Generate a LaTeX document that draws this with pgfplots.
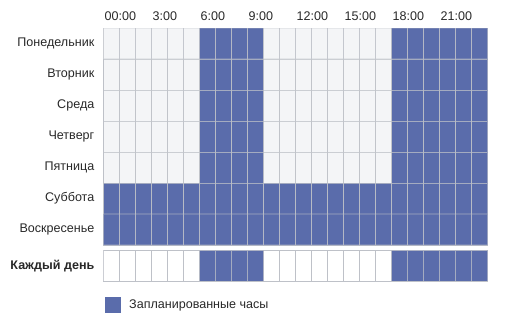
\documentclass[border=0pt]{standalone}
\usepackage{fontspec}
\setmainfont{Liberation Sans}
\usepackage{pgfplots}
\pgfplotsset{compat=1.18}
\definecolor{blueclr}{RGB}{90,108,171}
\definecolor{emptyclr}{RGB}{244,245,247}
\definecolor{lineclr}{RGB}{190,193,200}
\definecolor{txt}{RGB}{40,40,40}
\begin{document}
\begin{tikzpicture}
\useasboundingbox (0,0) rectangle (510bp,327bp);
\pgfplotsset{every axis/.append style={
  scale only axis, width=384bp, enlargelimits=false,
  axis line style={draw=lineclr, line width=0.6bp},
  major tick length=0pt,
  tick label style={font=\fontsize{12.6}{14}\selectfont, text=txt},
}}
\begin{axis}[
  at={(103.5bp,82bp)}, anchor=south west, height=217bp,
  xmin=-0.5, xmax=23.5, ymin=-0.5, ymax=6.5, y dir=reverse,
  xtick={-0.5,2.5,5.5,8.5,11.5,14.5,17.5,20.5},
  xticklabels={00:00,3:00,6:00,9:00,12:00,15:00,18:00,21:00},
  xticklabel pos=upper,
  xticklabel style={anchor=base west, inner sep=0pt, xshift=1bp, yshift=8bp},
  ytick={0,...,6},
  yticklabels={Понедельник,Вторник,Среда,Четверг,Пятница,Суббота,Воскресенье},
  yticklabel style={anchor=east, inner sep=0pt, xshift=-9bp},
  colormap={sched}{rgb255=(244,245,247) rgb255=(90,108,171)},
  point meta min=0, point meta max=1,
]
\addplot[matrix plot*, mesh/cols=24, point meta=explicit, draw=lineclr, draw opacity=0.75, line width=0.6bp]
 table[row sep=\\, meta=c] {
x y c\\
0 0 0\\ 1 0 0\\ 2 0 0\\ 3 0 0\\ 4 0 0\\ 5 0 0\\ 6 0 1\\ 7 0 1\\ 8 0 1\\ 9 0 1\\ 10 0 0\\ 11 0 0\\ 12 0 0\\ 13 0 0\\ 14 0 0\\ 15 0 0\\ 16 0 0\\ 17 0 0\\ 18 0 1\\ 19 0 1\\ 20 0 1\\ 21 0 1\\ 22 0 1\\ 23 0 1\\
0 1 0\\ 1 1 0\\ 2 1 0\\ 3 1 0\\ 4 1 0\\ 5 1 0\\ 6 1 1\\ 7 1 1\\ 8 1 1\\ 9 1 1\\ 10 1 0\\ 11 1 0\\ 12 1 0\\ 13 1 0\\ 14 1 0\\ 15 1 0\\ 16 1 0\\ 17 1 0\\ 18 1 1\\ 19 1 1\\ 20 1 1\\ 21 1 1\\ 22 1 1\\ 23 1 1\\
0 2 0\\ 1 2 0\\ 2 2 0\\ 3 2 0\\ 4 2 0\\ 5 2 0\\ 6 2 1\\ 7 2 1\\ 8 2 1\\ 9 2 1\\ 10 2 0\\ 11 2 0\\ 12 2 0\\ 13 2 0\\ 14 2 0\\ 15 2 0\\ 16 2 0\\ 17 2 0\\ 18 2 1\\ 19 2 1\\ 20 2 1\\ 21 2 1\\ 22 2 1\\ 23 2 1\\
0 3 0\\ 1 3 0\\ 2 3 0\\ 3 3 0\\ 4 3 0\\ 5 3 0\\ 6 3 1\\ 7 3 1\\ 8 3 1\\ 9 3 1\\ 10 3 0\\ 11 3 0\\ 12 3 0\\ 13 3 0\\ 14 3 0\\ 15 3 0\\ 16 3 0\\ 17 3 0\\ 18 3 1\\ 19 3 1\\ 20 3 1\\ 21 3 1\\ 22 3 1\\ 23 3 1\\
0 4 0\\ 1 4 0\\ 2 4 0\\ 3 4 0\\ 4 4 0\\ 5 4 0\\ 6 4 1\\ 7 4 1\\ 8 4 1\\ 9 4 1\\ 10 4 0\\ 11 4 0\\ 12 4 0\\ 13 4 0\\ 14 4 0\\ 15 4 0\\ 16 4 0\\ 17 4 0\\ 18 4 1\\ 19 4 1\\ 20 4 1\\ 21 4 1\\ 22 4 1\\ 23 4 1\\
0 5 1\\ 1 5 1\\ 2 5 1\\ 3 5 1\\ 4 5 1\\ 5 5 1\\ 6 5 1\\ 7 5 1\\ 8 5 1\\ 9 5 1\\ 10 5 1\\ 11 5 1\\ 12 5 1\\ 13 5 1\\ 14 5 1\\ 15 5 1\\ 16 5 1\\ 17 5 1\\ 18 5 1\\ 19 5 1\\ 20 5 1\\ 21 5 1\\ 22 5 1\\ 23 5 1\\
0 6 1\\ 1 6 1\\ 2 6 1\\ 3 6 1\\ 4 6 1\\ 5 6 1\\ 6 6 1\\ 7 6 1\\ 8 6 1\\ 9 6 1\\ 10 6 1\\ 11 6 1\\ 12 6 1\\ 13 6 1\\ 14 6 1\\ 15 6 1\\ 16 6 1\\ 17 6 1\\ 18 6 1\\ 19 6 1\\ 20 6 1\\ 21 6 1\\ 22 6 1\\ 23 6 1\\
};
\end{axis}
\begin{axis}[
  at={(103.5bp,46bp)}, anchor=south west, height=30.7bp,
  xmin=0, xmax=24, ymin=0, ymax=1,
  xtick=\empty,
  ytick={0.5}, yticklabels={\textbf{Каждый день}},
  yticklabel style={anchor=east, inner sep=0pt, xshift=-9bp},
  legend style={at={(0,0)}, anchor=north west, draw=none, fill=none,
    inner sep=0pt, outer sep=0pt, xshift=1.5bp, yshift=-15.7bp,
    font=\fontsize{12.6}{14}\selectfont, text=txt, nodes={inner sep=0pt}},
  legend image code/.code={\fill[blueclr] (0bp,-7.5bp) rectangle (15.5bp,7.5bp); \path[draw=none] (0bp,0bp) -- (24bp,0bp);},
]
\addplot[ybar interval, fill=white, draw=lineclr, line width=0.6bp, forget plot] coordinates {
(0,1)(1,1)(2,1)(3,1)(4,1)(5,1)(6,1)(7,1)(8,1)(9,1)(10,1)(11,1)(12,1)(13,1)(14,1)(15,1)(16,1)(17,1)(18,1)(19,1)(20,1)(21,1)(22,1)(23,1)(24,1)};
\addplot[ybar interval, fill=blueclr, draw=lineclr, draw opacity=0.75, line width=0.6bp, forget plot] coordinates {
(6,1)(7,1)(8,1)(9,1)(10,1)};
\addplot[ybar interval, fill=blueclr, draw=lineclr, draw opacity=0.75, line width=0.6bp, forget plot] coordinates {
(18,1)(19,1)(20,1)(21,1)(22,1)(23,1)(24,1)};
\addlegendimage{blueclr}
\addlegendentry{Запланированные часы}
\end{axis}
\end{tikzpicture}
\end{document}
